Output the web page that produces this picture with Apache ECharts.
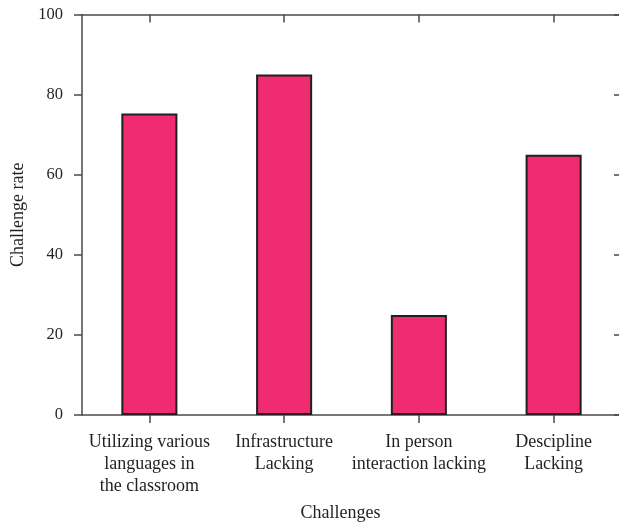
<!DOCTYPE html>
<html>
<head>
<meta charset="utf-8">
<script src="https://cdn.jsdelivr.net/npm/echarts@6/dist/echarts.min.js"></script>
<style>html,body{margin:0;padding:0;background:#fff;}#c{width:619px;height:527px;}</style>
</head>
<body>
<div id="c"></div>
<script>
var categories = ["Utilizing various\nlanguages in\nthe classroom", "Infrastructure\nLacking", "In person\ninteraction lacking", "Descipline\nLacking"];
var values = [75.3, 85, 25, 65];
var yTicks = [0, 20, 40, 60, 80, 100];

var FONT = "Liberation Serif";
var lineColor = "#4a4a4a";
var chart = echarts.init(document.getElementById('c'), null, {renderer: 'canvas'});
chart.setOption({
  animation: false,
  grid: {left: 82, right: -2, top: 14.5, bottom: 112, containLabel: false, outerBoundsMode: 'none'},
  xAxis: [{
    type: 'category', data: categories, position: 'bottom', show: true,
    name: 'Challenges', nameLocation: 'middle', nameGap: 89,
    nameTextStyle: {fontFamily: FONT, fontSize: 18, color: '#231f20', padding: [0, 22, 0, 0]},
    axisLine: {show: true, lineStyle: {color: lineColor, width: 1.5}},
    axisTick: {show: true, alignWithLabel: true, length: 8, inside: false, lineStyle: {color: lineColor, width: 1.5}},
    axisLabel: {fontFamily: FONT, fontSize: 18, color: '#231f20', margin: 16, lineHeight: 22, interval: 0},
    splitLine: {show: false}
  }, {
    type: 'category', data: categories, position: 'top', show: true,
    axisLine: {show: true, onZero: false, lineStyle: {color: lineColor, width: 1.5}},
    axisTick: {show: true, alignWithLabel: true, length: 8, inside: true, lineStyle: {color: lineColor, width: 1.5}},
    axisLabel: {show: false},
    splitLine: {show: false}
  }],
  yAxis: [{
    type: 'value', min: 0, max: 100, interval: 20, position: 'left',
    name: 'Challenge rate', nameLocation: 'middle', nameGap: 54,
    nameTextStyle: {fontFamily: FONT, fontSize: 18, color: '#231f20'},
    axisLine: {show: true, lineStyle: {color: lineColor, width: 1.5}},
    axisTick: {show: true, length: 8, inside: false, lineStyle: {color: lineColor, width: 1.5}},
    axisLabel: {fontFamily: FONT, fontSize: 16.5, color: '#231f20', margin: 19,
      formatter: function(v){ return yTicks.indexOf(v) >= 0 ? String(v) : ''; }},
    splitLine: {show: false}
  }, {
    type: 'value', min: 0, max: 100, interval: 20, position: 'right',
    axisLine: {show: false},
    axisTick: {show: true, length: 7, inside: true, lineStyle: {color: lineColor, width: 1.5}},
    axisLabel: {show: false},
    splitLine: {show: false}
  }],
  series: [{
    type: 'bar', data: values, xAxisIndex: 0, yAxisIndex: 0,
    barWidth: '41.6%',
    itemStyle: {color: '#EF2B72', borderColor: '#231f20', borderWidth: 2}
  }]
});
</script>
</body>
</html>
